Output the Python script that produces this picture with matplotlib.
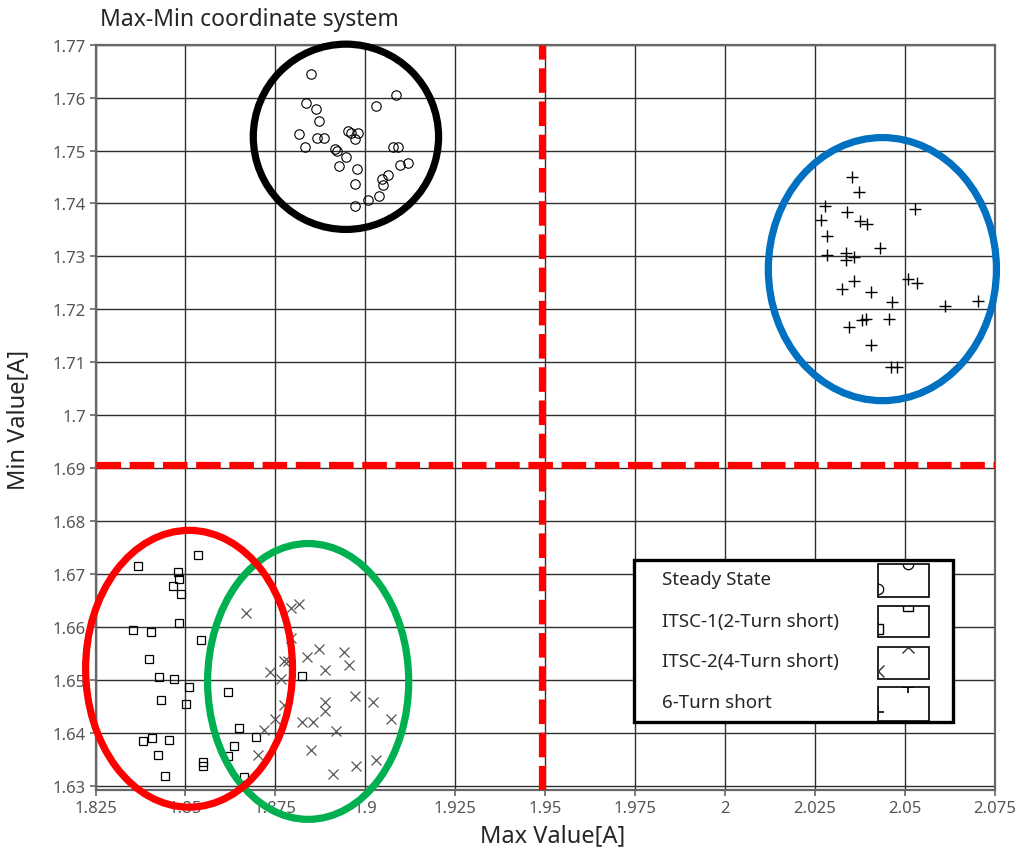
import matplotlib
matplotlib.use("Agg")
import matplotlib.pyplot as plt
from matplotlib.patches import Ellipse, Rectangle
from matplotlib.ticker import FixedLocator, FuncFormatter

# ---- measured peak values (Max, Min) per condition ----
steady_max = [1.8850, 1.9086, 1.8834, 1.9030, 1.8864, 1.8871, 1.8816, 1.8866, 1.8884, 1.8953,
              1.8959, 1.8979, 1.8972, 1.8831, 1.8917, 1.8921, 1.9076, 1.9091, 1.8946, 1.9119,
              1.9097, 1.8927, 1.8976, 1.9063, 1.9047, 1.9050, 1.8971, 1.9037, 1.9008, 1.8972]
steady_min = [1.7645, 1.7605, 1.7590, 1.7585, 1.7578, 1.7555, 1.7532, 1.7524, 1.7524, 1.7537,
              1.7534, 1.7533, 1.7522, 1.7506, 1.7502, 1.7500, 1.7507, 1.7507, 1.7488, 1.7477,
              1.7472, 1.7470, 1.7465, 1.7453, 1.7446, 1.7435, 1.7437, 1.7415, 1.7406, 1.7395]

itsc1_max = [1.8534, 1.8368, 1.8480, 1.8483, 1.8464, 1.8487, 1.8482, 1.8353, 1.8404, 1.8542,
             1.8398, 1.8427, 1.8468, 1.8509, 1.8617, 1.8431, 1.8502, 1.8650, 1.8697, 1.8406,
             1.8383, 1.8454, 1.8634, 1.8617, 1.8424, 1.8550, 1.8548, 1.8443, 1.8664, 1.8824]
itsc1_min = [1.6736, 1.6715, 1.6704, 1.6690, 1.6677, 1.6662, 1.6607, 1.6595, 1.6590, 1.6575,
             1.6539, 1.6505, 1.6502, 1.6487, 1.6477, 1.6462, 1.6455, 1.6409, 1.6392, 1.6390,
             1.6385, 1.6387, 1.6376, 1.6356, 1.6358, 1.6345, 1.6337, 1.6319, 1.6317, 1.6508]

itsc2_max = [1.8669, 1.8792, 1.8816, 1.8794, 1.8775, 1.8785, 1.8838, 1.8871, 1.8942, 1.8954,
             1.8887, 1.8735, 1.8766, 1.8972, 1.9020, 1.8887, 1.8887, 1.8775, 1.8749, 1.8824,
             1.8854, 1.9072, 1.8919, 1.8718, 1.8850, 1.8701, 1.9030, 1.8975, 1.8910]
itsc2_min = [1.6626, 1.6635, 1.6643, 1.6579, 1.6535, 1.6535, 1.6543, 1.6558, 1.6552, 1.6529,
             1.6519, 1.6515, 1.6501, 1.6470, 1.6458, 1.6458, 1.6441, 1.6452, 1.6426, 1.6421,
             1.6421, 1.6426, 1.6403, 1.6405, 1.6368, 1.6358, 1.6348, 1.6337, 1.6322]

turn6_max = [2.0352, 2.0371, 2.0278, 2.0529, 2.0339, 2.0265, 2.0374, 2.0394, 2.0283, 2.0431,
             2.0282, 2.0337, 2.0337, 2.0357, 2.0507, 2.0534, 2.0357, 2.0326, 2.0404, 2.0464,
             2.0611, 2.0702, 2.0380, 2.0392, 2.0456, 2.0344, 2.0404, 2.0461, 2.0477]
turn6_min = [1.7450, 1.7422, 1.7396, 1.7389, 1.7383, 1.7369, 1.7367, 1.7361, 1.7339, 1.7315,
             1.7302, 1.7307, 1.7294, 1.7299, 1.7257, 1.7249, 1.7254, 1.7239, 1.7232, 1.7214,
             1.7207, 1.7216, 1.7179, 1.7181, 1.7181, 1.7166, 1.7133, 1.7091, 1.7091]

series_labels = ["Steady State", "ITSC-1(2-Turn short)", "ITSC-2(4-Turn short)", "6-Turn short"]

# decision thresholds
max_threshold = 1.949
min_threshold = 1.6906

x_ticks = [1.825, 1.85, 1.875, 1.9, 1.925, 1.95, 1.975, 2.0, 2.025, 2.05, 2.075]
y_ticks = [1.63, 1.64, 1.65, 1.66, 1.67, 1.68, 1.69, 1.70, 1.71, 1.72, 1.73, 1.74, 1.75, 1.76, 1.77]

# cluster outlines: (center x, center y, width, height, colour)
clusters = [
    (1.8946, 1.7526, 0.0515, 0.0350, "#000000"),
    (2.0437, 1.7276, 0.0634, 0.0497, "#0070C0"),
    (1.8841, 1.6497, 0.0559, 0.0521, "#00B050"),
    (1.8510, 1.6521, 0.0575, 0.0523, "#FF0000"),
]

FONT = ["Noto Sans", "DejaVu Sans"]

fig = plt.figure(figsize=(10.15, 8.54), dpi=100)
ax = fig.add_axes([0.0941, 0.0738, 0.9803 - 0.0941, 0.9465 - 0.0738])
ax.set_xlim(1.825, 2.075)
ax.set_ylim(1.6292, 1.77)

ax.xaxis.set_major_locator(FixedLocator(x_ticks))
ax.yaxis.set_major_locator(FixedLocator(y_ticks))
fmt = FuncFormatter(lambda v, p: f"{v:g}")
ax.xaxis.set_major_formatter(fmt)
ax.yaxis.set_major_formatter(fmt)
ax.grid(True, color="#2e2e2e", linewidth=1.0, zorder=0)
ax.set_axisbelow(True)
for s in ax.spines.values():
    s.set_color("#666666")
    s.set_linewidth(1.6)
ax.tick_params(direction="out", length=4, width=1.2, color="#666666",
               labelcolor="#555555", labelsize=12, pad=3)
for lab in ax.get_xticklabels() + ax.get_yticklabels():
    lab.set_family(FONT)

# scatter of each condition
ax.plot(steady_max, steady_min, linestyle="none", marker="o", ms=6.8, mfc="none",
        mec="black", mew=0.8, zorder=3)
ax.plot(itsc1_max, itsc1_min, linestyle="none", marker="s", ms=6.4, mfc="none",
        mec="black", mew=0.9, zorder=3)
ax.plot(itsc2_max, itsc2_min, linestyle="none", marker="x", ms=7, mec="#555555",
        mew=0.9, zorder=3)
ax.plot(turn6_max, turn6_min, linestyle="none", marker="+", ms=8, mec="black",
        mew=1.0, zorder=3)

# cluster outlines
for cx, cy, w, h, c in clusters:
    ax.add_patch(Ellipse((cx, cy), w, h, fill=False, edgecolor=c, linewidth=5.2,
                         clip_on=False, zorder=4))

# threshold lines
ax.axvline(max_threshold, color="#FF0000", linewidth=5.2, linestyle=(0, (3.4, 1.2)),
           dash_capstyle="butt", zorder=5)
ax.axhline(min_threshold, color="#FF0000", linewidth=5.2, linestyle=(0, (3.4, 1.2)),
           dash_capstyle="butt", zorder=5)

# legend box with sample swatches
tr = ax.transAxes
ax.add_patch(Rectangle((0.5987, 0.0912), 0.9533 - 0.5987, 0.3086 - 0.0912,
                       transform=tr, facecolor="white", edgecolor="black",
                       linewidth=2.4, zorder=10, clip_on=False))
row_y = [0.2831, 0.2268, 0.1731, 0.1181]
boxes = [(0.2590, 0.3032), (0.2053, 0.2469), (0.1489, 0.1919), (0.0926, 0.1382)]
styles = [
    dict(marker="o", ms=7.5, mfc="none", mec="black", mew=0.9),
    dict(marker="s", ms=7.0, mfc="none", mec="black", mew=1.0),
    dict(marker="x", ms=8, mec="#333333", mew=1.0),
    dict(marker="+", ms=9, mec="black", mew=1.2),
]
bx0, bx1 = 0.8699, 0.9266
for lbl, ty, (b0, b1), st in zip(series_labels, row_y, boxes, styles):
    ax.text(0.6298, ty, lbl, transform=tr, fontsize=13.5, family=FONT,
            color="#262626", va="center", ha="left", zorder=11)
    sw = Rectangle((bx0, b0), bx1 - bx0, b1 - b0, transform=tr, facecolor="white",
                   edgecolor="black", linewidth=1.2, zorder=11, clip_on=False)
    ax.add_patch(sw)
    ln, = ax.plot([bx0 + 0.59 * (bx1 - bx0), bx0], [b1, b0 + 0.25 * (b1 - b0)],
                  transform=tr, linestyle="none", zorder=12, clip_on=True, **st)
    ln.set_clip_path(sw)

fig.text(100 / 1015, 1 - 20 / 854, "Max-Min coordinate system", fontsize=16.5,
         family=FONT, color="#262626", ha="left", va="center")
fig.text(553 / 1015, 1 - 836 / 854, "Max Value[A]", fontsize=17, family=FONT,
         color="#262626", ha="center", va="center")
fig.text(18 / 1015, 1 - 420 / 854, "Min Value[A]", fontsize=17, family=FONT,
         color="#262626", ha="center", va="center", rotation=90)

fig.savefig("out.png", dpi=100)
